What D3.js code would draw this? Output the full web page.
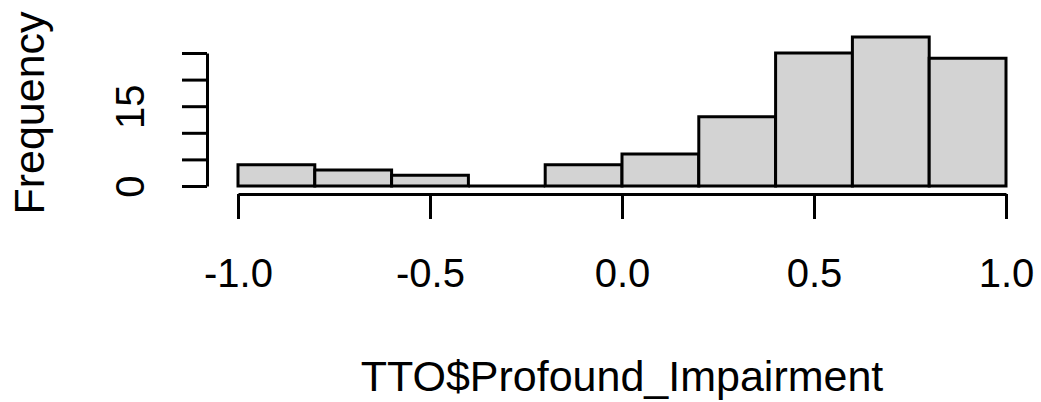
<!DOCTYPE html>
<html>
<head>
<meta charset="utf-8">
<script src="https://cdn.jsdelivr.net/npm/d3@7"></script>
<style>
  body { margin: 0; background: #fff; }
  svg text { font-family: "Liberation Sans", Arial, sans-serif; fill: #000; }
</style>
</head>
<body>
<div id="chart-area"></div>
<script>
// histogram of TTO$Profound_Impairment
var binStarts = [-1.0, -0.8, -0.6, -0.4, -0.2, 0.0, 0.2, 0.4, 0.6, 0.8];
var binWidth = 0.2;
var counts = [4, 3, 2, 0, 4, 6, 13, 25, 28, 24];
var xTicks = [-1.0, -0.5, 0.0, 0.5, 1.0];
var yTicks = [0, 5, 10, 15, 20, 25];
var yLabelled = [0, 15];

var W = 1041, H = 402;

var svg = d3.select("#chart-area")
    .append("svg")
        .attr("width", W)
        .attr("height", H);

// scales
var x = d3.scaleLinear().domain([-1, 1]).range([238, 1006]);
var y = d3.scaleLinear().domain([0, 25]).range([186, 53]);

// bars (drawn as closed paths so an empty bin still shows its baseline)
svg.selectAll("path.bar")
    .data(counts.map(function(c, i){ return { x0: binStarts[i], n: c }; }))
    .enter()
    .append("path")
        .attr("class", "bar")
        .attr("d", function(d){
            var x0 = x(d.x0), x1 = x(d.x0 + binWidth), y0 = y(0), y1 = y(d.n);
            return "M" + x0 + "," + y0 + "V" + y1 + "H" + x1 + "V" + y0 + "Z";
        })
        .attr("fill", "#d3d3d3")
        .attr("stroke", "#000")
        .attr("stroke-width", 3)
        .attr("stroke-linejoin", "miter");

// X axis
var xAxisCall = d3.axisBottom(x)
    .tickValues(xTicks)
    .tickSize(25)
    .tickSizeOuter(0)
    .tickFormat(function(d){ return d.toFixed(1); });

var xAxisGroup = svg.append("g")
    .attr("transform", "translate(0,194)")
    .call(xAxisCall);

xAxisGroup.select(".domain").attr("stroke-width", 3);
xAxisGroup.selectAll(".tick line").attr("stroke-width", 3);
xAxisGroup.selectAll(".tick text")
    .attr("font-size", "40px")
    .attr("y", 93)
    .attr("dy", 0);

// Y axis
var yAxisCall = d3.axisLeft(y)
    .tickValues(yTicks)
    .tickSize(25)
    .tickSizeOuter(0)
    .tickFormat(function(d){ return yLabelled.indexOf(d) >= 0 ? d : ""; });

var yAxisGroup = svg.append("g")
    .attr("transform", "translate(207,0)")
    .call(yAxisCall);

yAxisGroup.select(".domain").attr("stroke-width", 3);
yAxisGroup.selectAll(".tick line").attr("stroke-width", 3);
yAxisGroup.selectAll(".tick text")
    .attr("font-size", "40px")
    .attr("text-anchor", "middle")
    .attr("x", 0)
    .attr("dy", 0)
    .attr("transform", "translate(-63,0) rotate(-90)");

// X Label
svg.append("text")
    .attr("x", 622)
    .attr("y", 391)
    .attr("font-size", "43px")
    .attr("text-anchor", "middle")
    .text("TTO$Profound_Impairment");

// Y Label
svg.append("text")
    .attr("transform", "translate(44,113) rotate(-90)")
    .attr("font-size", "43px")
    .attr("text-anchor", "middle")
    .text("Frequency");
</script>
</body>
</html>
